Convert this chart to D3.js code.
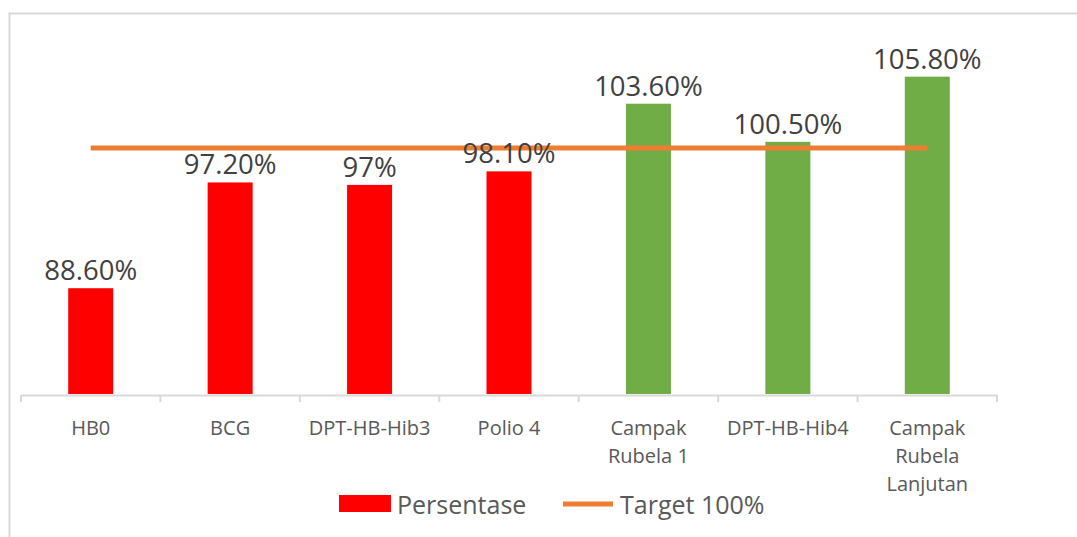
<!DOCTYPE html>
<html>
<head>
<meta charset="utf-8">
<script src="https://cdn.jsdelivr.net/npm/d3@7"></script>
<style>
  body { margin: 0; background: #fff; }
  svg { display: block; font-family: "Open Sans", sans-serif; }
</style>
</head>
<body>
<div id="chart"></div>
<script>
// data
var categories = ["HB0", "BCG", "DPT-HB-Hib3", "Polio 4", "Campak Rubela 1", "DPT-HB-Hib4", "Campak Rubela Lanjutan"];
var categoryLines = [["HB0"], ["BCG"], ["DPT-HB-Hib3"], ["Polio 4"], ["Campak", "Rubela 1"], ["DPT-HB-Hib4"], ["Campak", "Rubela", "Lanjutan"]];
var persentase = [88.6, 97.2, 97, 98.1, 103.6, 100.5, 105.8];
var valueLabels = ["88.60%", "97.20%", "97%", "98.10%", "103.60%", "100.50%", "105.80%"];
var target = [100, 100, 100, 100, 100, 100, 100];
var legendNames = ["Persentase", "Target 100%"];

var width = 1077, height = 537;

var svg = d3.select("#chart").append("svg")
  .attr("width", width)
  .attr("height", height);

// chart border (only top and left visible in the crop)
svg.append("rect")
  .attr("x", 9.5).attr("y", 13.5)
  .attr("width", 1100).attr("height", 600)
  .attr("fill", "none")
  .attr("stroke", "#d9d9d9")
  .attr("stroke-width", 2);

// scales
var xScale = d3.scaleBand().domain(categories).range([21, 997]).paddingInner(0).paddingOuter(0);
var yScale = d3.scaleLinear().domain([80, 110]).range([394, 25]);
var barW = 45;

// bars
svg.selectAll(".bar")
  .data(persentase)
  .enter().append("rect")
  .attr("class", "bar")
  .attr("x", function(d, i) { return xScale(categories[i]) + xScale.bandwidth() / 2 - barW / 2; })
  .attr("y", function(d) { return yScale(d); })
  .attr("width", barW)
  .attr("height", function(d) { return yScale(80) - yScale(d); })
  .attr("fill", function(d) { return d >= 100 ? "#70AD47" : "#FF0000"; });

// x axis
var xAxis = d3.axisBottom(xScale).tickSize(0).tickFormat("");
var gx = svg.append("g")
  .attr("transform", "translate(0," + 395 + ")")
  .call(xAxis);
gx.select(".domain").attr("stroke", "#d9d9d9").attr("stroke-width", 2);

// category separators
var seps = d3.range(categories.length + 1).map(function(i) { return 21 + i * xScale.bandwidth(); });
svg.selectAll(".sep")
  .data(seps)
  .enter().append("line")
  .attr("x1", function(d) { return d; }).attr("x2", function(d) { return d; })
  .attr("y1", 395).attr("y2", 402)
  .attr("stroke", "#d9d9d9").attr("stroke-width", 2);

// category labels
var labs = svg.selectAll(".cat")
  .data(categories)
  .enter().append("text")
  .attr("class", "cat")
  .attr("text-anchor", "middle")
  .attr("font-size", 20)
  .attr("fill", "#595959")
  .attr("transform", function(d) { return "translate(" + (xScale(d) + xScale.bandwidth() / 2) + ",435)"; });
labs.selectAll("tspan")
  .data(function(d, i) { return categoryLines[i]; })
  .enter().append("tspan")
  .attr("x", 0)
  .attr("y", function(d, j) { return j * 28; })
  .text(function(d) { return d; });

// target line
var line = d3.line()
  .x(function(d, i) { return xScale(categories[i]) + xScale.bandwidth() / 2; })
  .y(function(d) { return yScale(d); });
svg.append("path")
  .datum(target)
  .attr("d", line)
  .attr("fill", "none")
  .attr("stroke", "#ED7D31")
  .attr("stroke-width", 5);

// value labels
svg.selectAll(".val")
  .data(persentase)
  .enter().append("text")
  .attr("class", "val")
  .attr("text-anchor", "middle")
  .attr("font-size", 27.5)
  .attr("fill", "#404040")
  .attr("x", function(d, i) { return xScale(categories[i]) + xScale.bandwidth() / 2; })
  .attr("y", function(d) { return yScale(d) - 8; })
  .text(function(d, i) { return valueLabels[i]; });

// legend
var lg = svg.append("g");
lg.append("rect").attr("x", 339).attr("y", 495).attr("width", 52).attr("height", 17).attr("fill", "#FF0000");
lg.append("text").attr("x", 397).attr("y", 514).attr("font-size", 25).attr("fill", "#595959").text(legendNames[0]);
lg.append("line").attr("x1", 563).attr("x2", 613).attr("y1", 504).attr("y2", 504)
  .attr("stroke", "#ED7D31").attr("stroke-width", 5);
lg.append("text").attr("x", 620).attr("y", 514).attr("font-size", 25).attr("fill", "#595959").text(legendNames[1]);
</script>
</body>
</html>
